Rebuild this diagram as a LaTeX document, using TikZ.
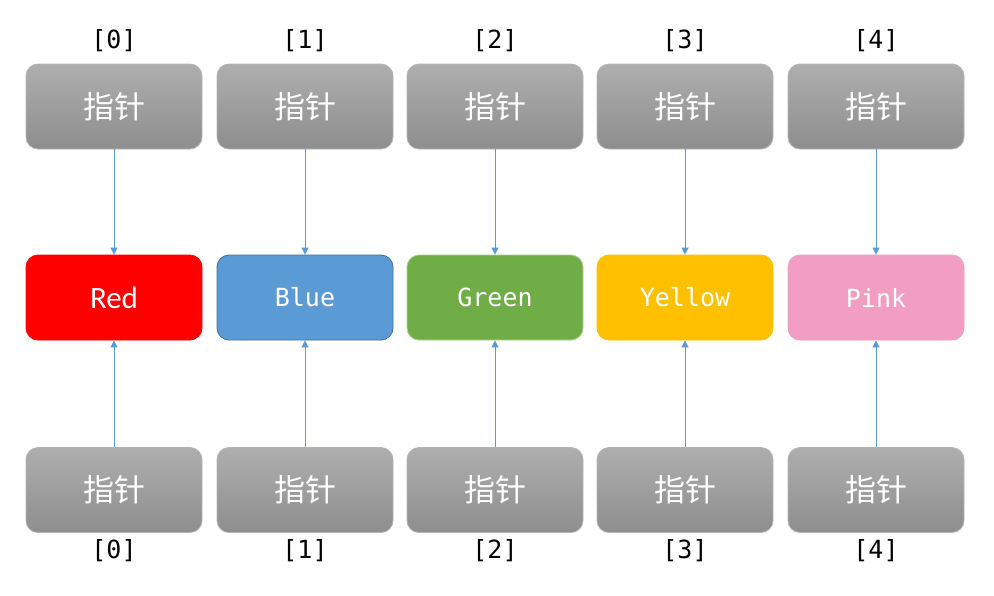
\documentclass[tikz,border=0pt]{standalone}
\usepackage{fontspec}
\setmainfont{Carlito}
\newfontfamily\monof{DejaVu Sans Mono}
\newfontfamily\cjk{Noto Sans CJK SC}
\usetikzlibrary{arrows.meta}
\definecolor{arrowblue}{HTML}{5B9BD5}
\definecolor{cred}{HTML}{FF0000}
\definecolor{cblue}{HTML}{5B9BD5}
\definecolor{cblueb}{HTML}{41719C}
\definecolor{cgreen}{HTML}{70AD47}
\definecolor{cgreenb}{HTML}{A9D18E}
\definecolor{cyellow}{HTML}{FFC000}
\definecolor{cpink}{HTML}{F19EC2}
\definecolor{gtop}{HTML}{AEAEAE}
\definecolor{gbot}{HTML}{8E8E8E}
\definecolor{gborder}{HTML}{B4B4B4}
\tikzset{
  ptrbox/.style={rounded corners=12pt, minimum width=176pt, minimum height=85pt,
    top color=gtop, bottom color=gbot, draw=gborder, line width=0.8pt,
    text=white, font=\cjk\fontsize{31}{34}\selectfont, inner sep=0pt},
  valbox/.style={rounded corners=12pt, minimum width=176pt, minimum height=85pt,
    text=white, font=\monof\fontsize{25}{28}\selectfont, inner sep=0pt, line width=0.8pt},
  idx/.style={font=\monof\fontsize{25}{28}\selectfont, text=black, inner sep=0pt},
  conn/.style={draw=arrowblue, line width=0.8pt, -{Triangle[length=7pt,width=7pt]}}
}
\begin{document}
\begin{tikzpicture}[x=1pt,y=-1pt]
\useasboundingbox (0,0) rectangle (994,595);
\foreach \i/\x in {0/114,1/305,2/495,3/685,4/876}{
  \node[idx] (ti\i) at (\x,41) {[\i]};
  \node[ptrbox] (t\i) at (\x,106.5) {\raisebox{-2pt}{指针}};
  \node[ptrbox] (b\i) at (\x,490) {\raisebox{-2pt}{指针}};
  \node[idx] (bi\i) at (\x,551) {[\i]};
}
\node[valbox, fill=cred, draw=cred, font=\fontsize{31}{33}\selectfont] (v0) at (114,297.5) {Red};
\node[valbox, fill=cblue, draw=cblueb] (v1) at (305,297.5) {Blue};
\node[valbox, fill=cgreen, draw=cgreenb] (v2) at (495,297.5) {Green};
\node[valbox, fill=cyellow, draw=cyellow] (v3) at (685,297.5) {Yellow};
\node[valbox, fill=cpink, draw=cpink] (v4) at (876,297.5) {Pink};
\foreach \i in {0,...,4}{
  \draw[conn] (t\i) -- (v\i);
  \draw[conn] (b\i) -- (v\i);
}
\end{tikzpicture}
\end{document}
